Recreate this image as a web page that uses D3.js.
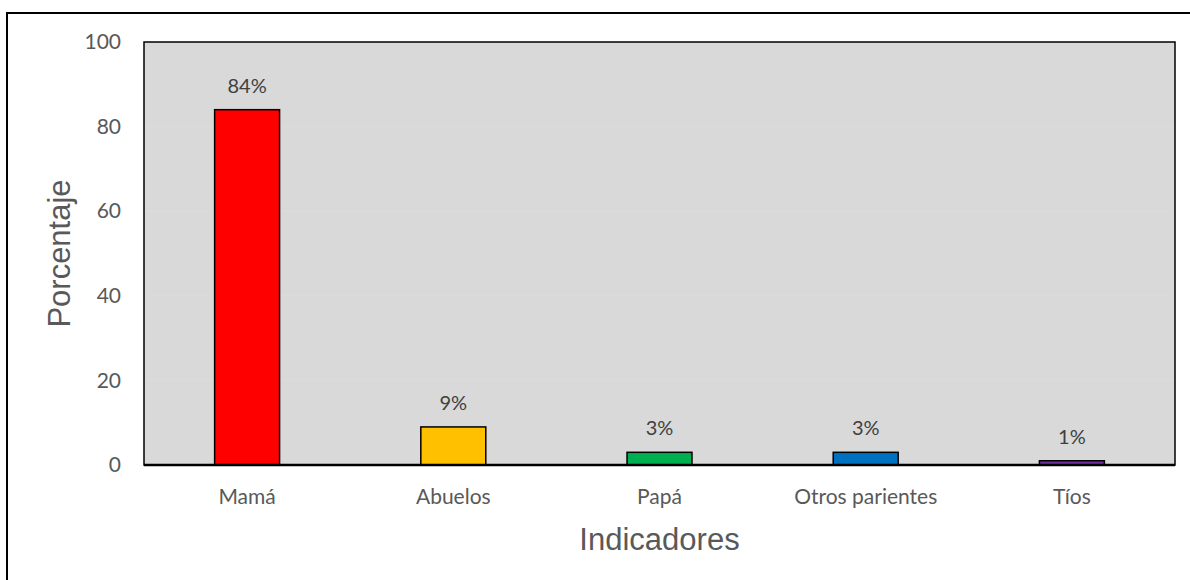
<!DOCTYPE html>
<html lang="es">
<head>
    <meta charset="UTF-8">
    <script src="https://cdn.jsdelivr.net/npm/d3@7"></script>
    <style>
        body { margin: 0; background: #fff; }
        svg { display: block; }
    </style>
</head>
<body>
<svg width="1190" height="580"></svg>
<script>
    var categories = ["Mamá", "Abuelos", "Papá", "Otros parientes", "Tíos"];
    var values = [84, 9, 3, 3, 1];
    var colors = ["#ff0000", "#ffc000", "#00b050", "#0070c0", "#7030a0"];
    var yTicks = [0, 20, 40, 60, 80, 100];

    var svg = d3.select("svg");
    var plot = {left: 144, right: 1175, top: 42, bottom: 465};

    // outer frame (only top/left edges visible in the picture)
    svg.append("rect")
        .attr("x", 7).attr("y", 13)
        .attr("width", 1300).attr("height", 700)
        .attr("fill", "#fff").attr("stroke", "#000").attr("stroke-width", 2);

    var x = d3.scaleBand()
        .domain(categories)
        .range([plot.left, plot.right])
        .paddingInner(0.685)
        .paddingOuter(0.3425);

    var y = d3.scaleLinear()
        .domain([0, 100])
        .range([plot.bottom, plot.top]);

    // plot background
    svg.append("rect")
        .attr("x", plot.left).attr("y", plot.top)
        .attr("width", plot.right - plot.left)
        .attr("height", plot.bottom - plot.top)
        .attr("fill", "#d9d9d9");

    // faint gridlines
    svg.append("g")
        .selectAll("line")
        .data(yTicks.slice(1, -1))
        .enter()
        .append("line")
        .attr("x1", plot.left).attr("x2", plot.right)
        .attr("y1", function (d) { return y(d); })
        .attr("y2", function (d) { return y(d); })
        .attr("stroke", "#dcdcdc").attr("stroke-width", 1);

    // bars
    svg.append("g")
        .selectAll("rect")
        .data(values)
        .enter()
        .append("rect")
        .attr("x", function (d, i) { return x(categories[i]); })
        .attr("y", function (d) { return y(d); })
        .attr("width", x.bandwidth())
        .attr("height", function (d) { return y(0) - y(d); })
        .attr("fill", function (d, i) { return colors[i]; })
        .attr("stroke", "#000")
        .attr("stroke-width", 1.5);

    // value labels
    svg.append("g")
        .selectAll("text")
        .data(values)
        .enter()
        .append("text")
        .attr("x", function (d, i) { return x(categories[i]) + x.bandwidth() / 2; })
        .attr("y", function (d) { return y(d) - 17; })
        .attr("text-anchor", "middle")
        .style("font-family", "Lato, 'Noto Sans', sans-serif")
        .style("font-size", "20px")
        .style("fill", "#404040")
        .text(function (d) { return d + "%"; });

    // plot frame
    svg.append("rect")
        .attr("x", plot.left).attr("y", plot.top)
        .attr("width", plot.right - plot.left)
        .attr("height", plot.bottom - plot.top)
        .attr("fill", "none")
        .attr("stroke", "#000").attr("stroke-width", 1.5);

    svg.append("line")
        .attr("x1", plot.left).attr("x2", plot.right)
        .attr("y1", y(0)).attr("y2", y(0))
        .attr("stroke", "#000").attr("stroke-width", 2.5);

    // y axis
    var yAxis = svg.append("g")
        .attr("transform", "translate(" + plot.left + ",0)")
        .call(d3.axisLeft(y).tickValues(yTicks).tickSize(0).tickPadding(23));
    yAxis.select(".domain").remove();

    // x axis
    var xAxis = svg.append("g")
        .attr("transform", "translate(0," + plot.bottom + ")")
        .call(d3.axisBottom(x).tickSize(0).tickPadding(24));
    xAxis.select(".domain").remove();

    svg.selectAll(".tick text")
        .style("font-family", "Lato, 'Noto Sans', sans-serif")
        .style("font-size", "21px")
        .style("fill", "#595959");

    // axis titles
    svg.append("text")
        .attr("x", (plot.left + plot.right) / 2)
        .attr("y", 550)
        .attr("text-anchor", "middle")
        .style("font-family", "'Liberation Sans', Arial, sans-serif")
        .style("font-size", "31px")
        .style("fill", "#595959")
        .text("Indicadores");

    svg.append("text")
        .attr("transform", "translate(70," + (plot.top + plot.bottom) / 2 + ") rotate(-90)")
        .attr("text-anchor", "middle")
        .style("font-family", "'Liberation Sans', Arial, sans-serif")
        .style("font-size", "31px")
        .style("fill", "#595959")
        .text("Porcentaje");
</script>
</body>
</html>
